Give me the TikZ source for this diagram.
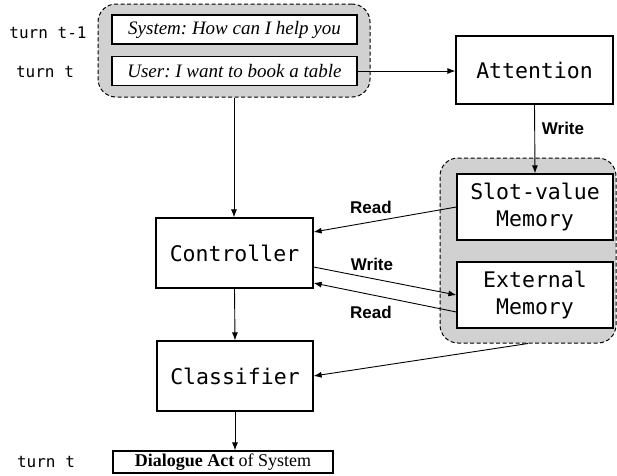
\documentclass[tikz,border=0pt]{standalone}
\usepackage{fontspec}
\setmainfont{Liberation Serif}
\setsansfont{Liberation Sans}
\setmonofont{DejaVu Sans Mono}
\usetikzlibrary{arrows.meta}
\frenchspacing

\begin{document}
\begin{tikzpicture}[x=1pt, y=-1pt,
    box/.style={draw, line width=1.2pt, fill=white, inner sep=0pt, align=center,
      font=\fontsize{21.5}{27}\selectfont\ttfamily},
    utter/.style={draw, line width=1.2pt, fill=white, inner sep=0pt,
      minimum width=245, minimum height=29, font=\fontsize{19}{22}\selectfont\itshape},
    group/.style={draw, dash pattern=on 4pt off 2.5pt, line width=1pt, fill=black!18,
      rounded corners=18pt, inner sep=0pt},
    turn/.style={font=\fontsize{16}{18}\selectfont\ttfamily},
    flow/.style={-{Latex[length=8pt,width=6pt]}, line width=0.9pt},
    lab/.style={font=\fontsize{17}{20}\selectfont\sffamily\bfseries}]
           \useasboundingbox (0,0) rectangle (617,475);

           % Dialoghistorie
           \node[group, minimum width=272, minimum height=93] (history) at (234,50.5) {};
           \node[utter] (system) at (234.5,29.5) {System: How can I help you};
           \node[utter] (user) at (234.5,71) {User: I want to book a table};
           \node[turn] (turnprev) at (48,33) {turn t-1};
           \node[turn] (turnnow) at (45,72) {turn t};

           % Attention
           \node[box, minimum width=157, minimum height=68] (attention) at (534.5,70) {Attention};

           % Minne
           \node[group, minimum width=176, minimum height=185] (memory) at (528,250.5) {};
           \node[box, minimum width=156, minimum height=66] (slot) at (535,207) {Slot-value\\Memory};
           \node[box, minimum width=156, minimum height=66] (ext) at (535,295) {External\\Memory};

           % Controller og Classifier
           \node[box, minimum width=157, minimum height=70] (controller) at (234.5,253) {Controller};
           \node[box, minimum width=156, minimum height=70] (classifier) at (235,376) {Classifier};

           % Dialogue act
           \node[draw, line width=1.2pt, inner sep=0pt, minimum width=220, minimum height=22,
             font=\fontsize{18}{20}\selectfont] (act) at (223,462) {\textbf{Dialogue Act} of System};
           \node[turn] (turnout) at (46,462) {turn t};

           % Piler
           \draw[flow] (user.east) -- (user.east -| attention.west);
           \draw[flow] (attention.south) -- (slot.north);
           \node[lab] at (563,128) {Write};
           \draw[flow] (history.south) -- (history.south |- controller.north);
           \draw[flow] (slot.west) -- ([yshift=21pt]controller.east);
           \node[lab] at (371,207) {Read};
           \draw[flow] ([yshift=-14pt]controller.east) -- (ext.west);
           \node[lab] at (372,264) {Write};
           \draw[flow] ([yshift=-17pt]ext.west) -- ([yshift=-30pt]controller.east);
           \node[lab] at (371,312) {Read};
           \draw[flow] (controller.south) -- (classifier.north);
           \draw[flow] (memory.south) -- (classifier.east);
           \draw[flow] (classifier.south) -- (classifier.south |- act.north);
         \end{tikzpicture}
\end{document}
